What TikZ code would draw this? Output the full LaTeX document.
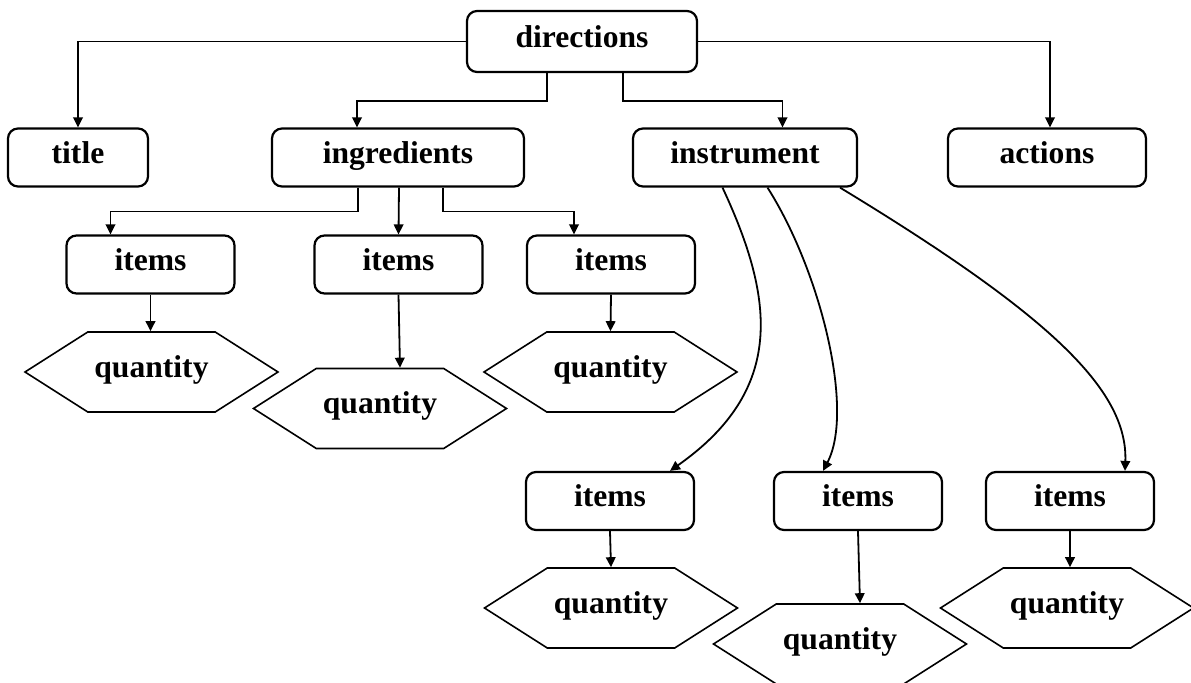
\documentclass[tikz,border=0pt]{standalone}
\usepackage{fontspec}
\setmainfont{Liberation Serif}
\usetikzlibrary{shapes,shapes.symbols,positioning,arrows,arrows.meta}

\begin{document}
\begin{tikzpicture}[x=0.5pt,y=-0.5pt,line width=0.9pt,
	>={Triangle[length=5pt,width=4.8pt]},
	box/.style={draw,rounded corners=5pt,line width=1.1pt,minimum height=29pt,inner sep=2pt,
		text height=10.5pt,text depth=4.5pt,font=\fontsize{15.8}{18}\selectfont\bfseries},
	hexa/.style={draw,signal,signal to=west and east,signal pointer angle=65,
		minimum width=126.5pt,minimum height=40pt,inner sep=0pt,line width=0.8pt,
		text height=10pt,text depth=4.5pt,font=\fontsize{15.8}{18}\selectfont\bfseries}]
	\useasboundingbox (0,0) rectangle (1191,683);

	\node[box,minimum width=115pt,minimum height=30.5pt] (directions) at (582,41.5) {directions};
	\node[box,minimum width=70pt] (title) at (78,157.5) {title};
	\node[box,minimum width=126pt] (ingredients) at (398,157.5) {ingredients};
	\node[box,minimum width=112pt] (instrument) at (745,157.5) {instrument};
	\node[box,minimum width=99pt] (actions) at (1047,157.5) {actions};

	\node[box,minimum width=84pt] (items1) at (150.5,264.5) {items};
	\node[box,minimum width=84pt] (items2) at (398.5,264.5) {items};
	\node[box,minimum width=84pt] (items3) at (611,264.5) {items};
	\node[hexa] (qty1) at (151.5,372) {quantity};
	\node[hexa] (qty2) at (380,408.5) {quantity};
	\node[hexa] (qty3) at (610.5,372) {quantity};

	\node[box,minimum width=84pt] (items4) at (610,501) {items};
	\node[box,minimum width=84pt] (items5) at (858,501) {items};
	\node[box,minimum width=84pt] (items6) at (1070,501) {items};
	\node[hexa] (qty4) at (611,608) {quantity};
	\node[hexa] (qty5) at (840,644) {quantity};
	\node[hexa] (qty6) at (1067,608) {quantity};

	\draw[->] (directions.west) -| (title.north);
	\draw[->] (directions.east) -| ([xshift=1.5pt]actions.north);
	\draw[->] ([xshift=-17.5pt]directions.south) -- ++(0,28) -| ([xshift=-20.5pt]ingredients.north);
	\draw[->] ([xshift=20.5pt]directions.south) -- ++(0,28) -| ([xshift=18.75pt]instrument.north);

	\draw[->] ([xshift=-20pt]ingredients.south) -- ++(0,24) -| ([xshift=-20pt]items1.north);
	\draw[->] ([xshift=0.5pt]ingredients.south) -- (items2.north);
	\draw[->] ([xshift=22.5pt]ingredients.south) -- ++(0,24) -| ([xshift=-18.5pt]items3.north);

	\draw[->] (items1.south) -- (qty1.north -| items1.south);
	\draw[->] (items2.south) -- ([xshift=10pt]qty2.north);
	\draw[->] (items3.south) -- (qty3.north);

	\draw[->] ([xshift=-11.25pt]instrument.south) .. controls (775,300) and (785,390) .. ([xshift=30pt]items4.north);
	\draw[->] ([xshift=11.25pt]instrument.south) .. controls (820,270) and (855,410) .. ([xshift=-17.5pt]items5.north);
	\draw[->] ([xshift=47.5pt]instrument.south) .. controls (1050,315) and (1128,390) .. ([xshift=27.5pt]items6.north);

	\draw[->] (items4.south) -- (qty4.north);
	\draw[->] (items5.south) -- ([xshift=10pt]qty5.north);
	\draw[->] (items6.south) -- (qty6.north -| items6.south);
\end{tikzpicture}
\end{document}
